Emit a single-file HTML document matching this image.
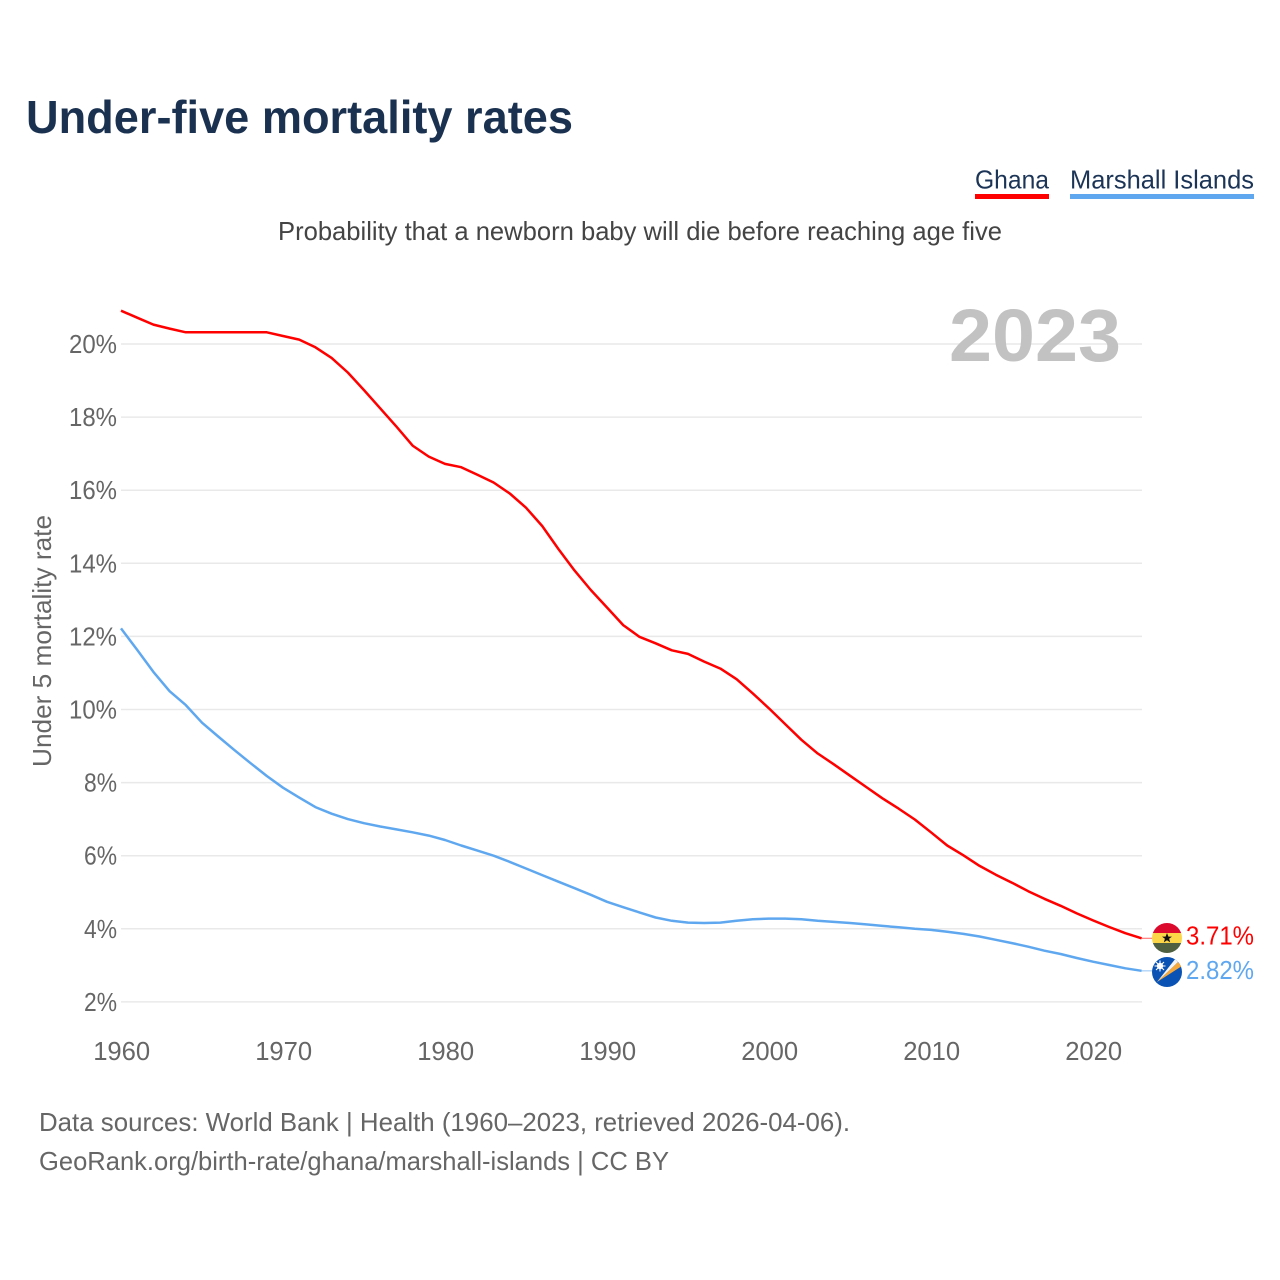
<!DOCTYPE html>
<html lang="en">
<head>
<meta charset="utf-8">
<title>Under-five mortality rates</title>
<style>
html,body{margin:0;padding:0;background:#fff;width:1280px;height:1280px;overflow:hidden}
svg{display:block}
text{font-family:"Liberation Sans",sans-serif}
</style>
</head>
<body>
<svg id="chart" xmlns="http://www.w3.org/2000/svg" width="1280" height="1280" viewBox="0 0 1280 1280">
  <defs>
    <clipPath id="clip-ghana"><circle cx="1167" cy="938" r="15"/></clipPath>
    <clipPath id="clip-marshall"><circle cx="1167" cy="972" r="15"/></clipPath>
  </defs>
  <rect width="1280" height="1280" fill="#ffffff"/>
  <text x="26" y="133" font-size="46" font-weight="700" fill="#1a3150" textLength="547" lengthAdjust="spacingAndGlyphs">Under-five mortality rates</text>
  <g>
    <g>
      <text x="975" y="188.5" font-size="26" fill="#1c3557" textLength="74" lengthAdjust="spacingAndGlyphs">Ghana</text>
      <rect x="975" y="194" width="74" height="5" fill="#ff0000"/>
    </g>
    <g>
      <text x="1070" y="188.5" font-size="26" fill="#1c3557" textLength="184" lengthAdjust="spacingAndGlyphs">Marshall Islands</text>
      <rect x="1070" y="194" width="184" height="5" fill="#5fa8f0"/>
    </g>
  </g>
  <text x="278" y="240" font-size="26" fill="#444444" textLength="724" lengthAdjust="spacingAndGlyphs">Probability that a newborn baby will die before reaching age five</text>
  <g id="grid"></g>
  <g id="yticks"></g>
  <g id="xticks"></g>
  <text transform="translate(51,641) rotate(-90)" text-anchor="middle" font-size="26" fill="#666666" textLength="252" lengthAdjust="spacingAndGlyphs">Under 5 mortality rate</text>
  <text x="949" y="361" font-size="74" font-weight="700" fill="#c2c2c2" textLength="172" lengthAdjust="spacingAndGlyphs">2023</text>
  <g id="series"></g>
  <g clip-path="url(#clip-ghana)">
    <rect x="1152" y="923" width="30" height="10" fill="#dc0a2d"/>
    <rect x="1152" y="933" width="30" height="10" fill="#fdd648"/>
    <rect x="1152" y="943" width="30" height="10" fill="#4f6041"/>
    <polygon points="1167,933 1168.4,936.6 1172,936.6 1169.1,938.8 1170.2,942.4 1167,940.2 1163.8,942.4 1164.9,938.8 1162,936.6 1165.6,936.6" fill="#111111"/>
  </g>
  <g clip-path="url(#clip-marshall)">
    <rect x="1152" y="957" width="30" height="30" fill="#0a52b4"/>
    <polygon points="1157,982 1178,962 1182,966" fill="#f5a83c"/>
    <polygon points="1157,982 1176,958 1178,962" fill="#f4f4f4"/>
    <circle cx="1160" cy="966" r="3.2" fill="#ffffff"/>
    <path d="M1160 960.5V971.5M1154.5 966H1165.5M1156 962L1164 970M1164 962L1156 970" stroke="#ffffff" stroke-width="1.1"/>
  </g>
  <g id="endlabels"></g>
  <g>
    <text x="39" y="1131" font-size="26" fill="#666666" textLength="811" lengthAdjust="spacingAndGlyphs">Data sources: World Bank | Health (1960–2023, retrieved 2026-04-06).</text>
    <text x="39" y="1170" font-size="26" fill="#666666" textLength="630" lengthAdjust="spacingAndGlyphs">GeoRank.org/birth-rate/ghana/marshall-islands | CC BY</text>
  </g>
</svg>
<script>
const startYear = 1960;
const yTickValues = [2, 4, 6, 8, 10, 12, 14, 16, 18, 20];
const xTickYears = [1960, 1970, 1980, 1990, 2000, 2010, 2020];
const ghanaValues = [20.91,20.72,20.53,20.42,20.32,20.32,20.32,20.32,20.32,20.32,20.22,20.12,19.91,19.62,19.22,18.74,18.24,17.74,17.22,16.92,16.72,16.63,16.42,16.21,15.91,15.52,15.02,14.39,13.8,13.27,12.79,12.31,11.99,11.81,11.62,11.52,11.31,11.12,10.83,10.44,10.03,9.6,9.17,8.8,8.5,8.19,7.88,7.57,7.29,6.99,6.64,6.28,6.01,5.72,5.48,5.26,5.03,4.82,4.63,4.42,4.23,4.05,3.88,3.74];
const marshallValues = [12.22,11.63,11.03,10.5,10.12,9.64,9.26,8.89,8.53,8.18,7.86,7.59,7.33,7.15,7.0,6.89,6.8,6.72,6.64,6.55,6.43,6.28,6.14,6.0,5.83,5.65,5.47,5.29,5.11,4.93,4.74,4.59,4.45,4.31,4.22,4.17,4.16,4.17,4.22,4.26,4.28,4.28,4.26,4.22,4.19,4.16,4.12,4.08,4.04,4.0,3.97,3.92,3.86,3.79,3.7,3.61,3.51,3.4,3.31,3.2,3.1,3.01,2.92,2.85];
const ghanaLabel = "3.71%";
const marshallLabel = "2.82%";

const NS = "http://www.w3.org/2000/svg";
function xScale(year) { return 121 + (year - startYear) * 16.2; }
function yScale(value) { return 344 + (20 - value) * 36.55; }
function make(tag, attrs, text) {
  const el = document.createElementNS(NS, tag);
  for (const k in attrs) el.setAttribute(k, attrs[k]);
  if (text !== undefined) el.textContent = text;
  return el;
}
const grid = document.getElementById("grid");
const yticks = document.getElementById("yticks");
const xticks = document.getElementById("xticks");
const series = document.getElementById("series");
const endlabels = document.getElementById("endlabels");

yTickValues.forEach(function (v) {
  const line = make("line", { x1: 121, x2: 1142, y1: yScale(v), y2: yScale(v), stroke: "#e9e9e9", "stroke-width": 1.5 });
  
  
  grid.appendChild(line);
  const label = v + "%";
  const t = make("text", { x: 117, y: yScale(v) + 9, "text-anchor": "end", "font-size": 26, fill: "#666666", textLength: v >= 10 ? 48 : 33, lengthAdjust: "spacingAndGlyphs" }, label);
  
  
  yticks.appendChild(t);
});

xTickYears.forEach(function (yr) {
  const t = make("text", { x: xScale(yr) + 0.7, y: 1060, "text-anchor": "middle", "font-size": 26, fill: "#666666", textLength: 57, lengthAdjust: "spacingAndGlyphs" }, String(yr));
  
  
  xticks.appendChild(t);
});

function pathFor(values) {
  return values.map(function (v, i) {
    return (i ? "L" : "M") + xScale(startYear + i).toFixed(1) + " " + yScale(v).toFixed(1);
  }).join("");
}
function lastY(values) { return yScale(values[values.length - 1]); }
function lastX(values) { return xScale(startYear + values.length - 1); }

const ghanaLine = make("path", { d: pathFor(ghanaValues), fill: "none", stroke: "#ff0000", "stroke-width": 2.5, "stroke-linejoin": "round" });


series.appendChild(ghanaLine);

const marshallLine = make("path", { d: pathFor(marshallValues), fill: "none", stroke: "#5fa8f0", "stroke-width": 2.5, "stroke-linejoin": "round" });


series.appendChild(marshallLine);

const ghanaLead = make("line", { x1: lastX(ghanaValues), x2: 1153, y1: lastY(ghanaValues), y2: lastY(ghanaValues), stroke: "#ff7a7a", "stroke-width": 1.2 });


series.appendChild(ghanaLead);

const marshallLead = make("line", { x1: lastX(marshallValues), x2: 1153, y1: lastY(marshallValues), y2: lastY(marshallValues), stroke: "#a5cdf6", "stroke-width": 1.2 });


series.appendChild(marshallLead);

const ghanaEnd = make("text", { x: 1186, y: 944.5, "font-size": 26, fill: "#ff0000", textLength: 68, lengthAdjust: "spacingAndGlyphs" }, ghanaLabel);


endlabels.appendChild(ghanaEnd);

const marshallEnd = make("text", { x: 1186, y: 979, "font-size": 26, fill: "#5fa8f0", textLength: 68, lengthAdjust: "spacingAndGlyphs" }, marshallLabel);


endlabels.appendChild(marshallEnd);
</script>
</body>
</html>
